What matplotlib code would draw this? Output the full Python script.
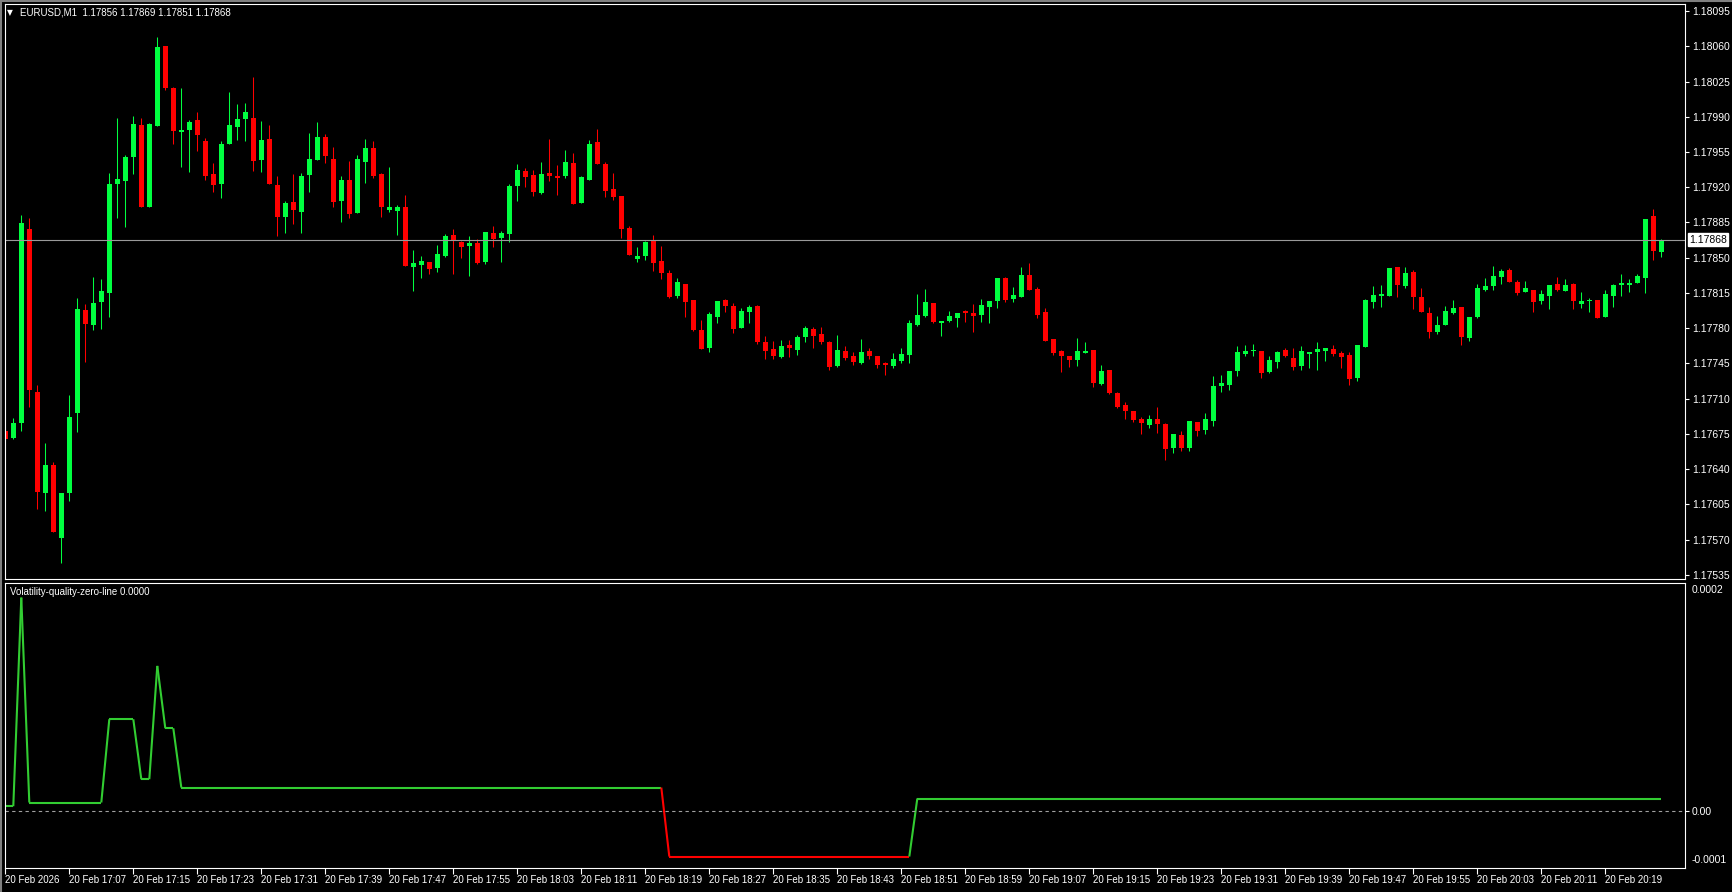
import matplotlib
matplotlib.use("Agg")
import matplotlib.pyplot as plt
from matplotlib.collections import LineCollection
from matplotlib.lines import Line2D
import numpy as np

# EURUSD M1, 20 Feb 2026 16:59 .. 20:26 (one candle per minute)
opens = [
    1.17678, 1.17671, 1.17686, 1.17878, 1.17717, 1.17616, 1.17644, 1.17572, 1.17616, 1.17696,
    1.17798, 1.17783, 1.17806, 1.17815, 1.17923, 1.17926, 1.17950, 1.17982, 1.17900, 1.17981,
    1.18060, 1.18019, 1.17975, 1.17977, 1.17987, 1.17966, 1.17933, 1.17923, 1.17963, 1.17980,
    1.17988, 1.17989, 1.17947, 1.17968, 1.17922, 1.17890, 1.17905, 1.17895, 1.17932, 1.17947,
    1.17970, 1.17948, 1.17906, 1.17927, 1.17894, 1.17945, 1.17959, 1.17933, 1.17897, 1.17896,
    1.17900, 1.17841, 1.17843, 1.17846, 1.17840, 1.17852, 1.17873, 1.17866, 1.17862, 1.17865,
    1.17846, 1.17875, 1.17870, 1.17874, 1.17921, 1.17936, 1.17932, 1.17914, 1.17934, 1.17931,
    1.17931, 1.17944, 1.17904, 1.17927, 1.17965, 1.17943, 1.17918, 1.17911, 1.17879, 1.17849,
    1.17852, 1.17868, 1.17847, 1.17835, 1.17812, 1.17824, 1.17808, 1.17778, 1.17760, 1.17791,
    1.17808, 1.17802, 1.17780, 1.17796, 1.17802, 1.17766, 1.17759, 1.17751, 1.17763, 1.17758,
    1.17771, 1.17779, 1.17774, 1.17766, 1.17742, 1.17757, 1.17752, 1.17745, 1.17757, 1.17752,
    1.17745, 1.17742, 1.17747, 1.17753, 1.17783, 1.17792, 1.17805, 1.17785, 1.17787, 1.17790,
    1.17797, 1.17795, 1.17793, 1.17801, 1.17807, 1.17830, 1.17809, 1.17811, 1.17833, 1.17819,
    1.17796, 1.17769, 1.17757, 1.17752, 1.17748, 1.17755, 1.17758, 1.17725, 1.17738, 1.17716,
    1.17704, 1.17698, 1.17690, 1.17684, 1.17690, 1.17685, 1.17661, 1.17674, 1.17661, 1.17687,
    1.17679, 1.17688, 1.17723, 1.17724, 1.17737, 1.17754, 1.17757, 1.17757, 1.17736, 1.17746,
    1.17758, 1.17750, 1.17742, 1.17754, 1.17756, 1.17757, 1.17759, 1.17755, 1.17753, 1.17730,
    1.17761, 1.17806, 1.17812, 1.17812, 1.17841, 1.17822, 1.17836, 1.17811, 1.17795, 1.17776,
    1.17783, 1.17795, 1.17801, 1.17770, 1.17791, 1.17818, 1.17822, 1.17831, 1.17838, 1.17826,
    1.17816, 1.17818, 1.17807, 1.17812, 1.17824, 1.17817, 1.17824, 1.17804, 1.17807, 1.17808,
    1.17791, 1.17812, 1.17823, 1.17823, 1.17825, 1.17830, 1.17891, 1.17856,
]
highs = [
    1.17681, 1.17691, 1.17892, 1.17889, 1.17724, 1.17666, 1.17647, 1.17616, 1.17714, 1.17810,
    1.17804, 1.17831, 1.17829, 1.17934, 1.17989, 1.17952, 1.17991, 1.17989, 1.17984, 1.18069,
    1.18060, 1.18020, 1.18019, 1.17987, 1.17995, 1.17969, 1.17944, 1.17966, 1.18015, 1.18003,
    1.18004, 1.18029, 1.17986, 1.17982, 1.17931, 1.17906, 1.17933, 1.17934, 1.17974, 1.17985,
    1.17973, 1.17960, 1.17931, 1.17946, 1.17952, 1.17968, 1.17966, 1.17934, 1.17940, 1.17902,
    1.17912, 1.17858, 1.17852, 1.17846, 1.17863, 1.17874, 1.17878, 1.17867, 1.17872, 1.17869,
    1.17876, 1.17881, 1.17877, 1.17923, 1.17943, 1.17939, 1.17937, 1.17945, 1.17968, 1.17942,
    1.17957, 1.17954, 1.17931, 1.17967, 1.17978, 1.17945, 1.17934, 1.17911, 1.17881, 1.17861,
    1.17867, 1.17873, 1.17862, 1.17838, 1.17830, 1.17824, 1.17808, 1.17788, 1.17796, 1.17807,
    1.17809, 1.17805, 1.17800, 1.17803, 1.17803, 1.17772, 1.17767, 1.17768, 1.17768, 1.17773,
    1.17782, 1.17781, 1.17781, 1.17767, 1.17773, 1.17762, 1.17756, 1.17769, 1.17760, 1.17752,
    1.17746, 1.17755, 1.17760, 1.17788, 1.17814, 1.17819, 1.17805, 1.17787, 1.17797, 1.17795,
    1.17798, 1.17804, 1.17809, 1.17807, 1.17830, 1.17831, 1.17821, 1.17841, 1.17845, 1.17821,
    1.17800, 1.17769, 1.17758, 1.17752, 1.17770, 1.17766, 1.17758, 1.17743, 1.17738, 1.17717,
    1.17707, 1.17698, 1.17692, 1.17694, 1.17702, 1.17686, 1.17675, 1.17678, 1.17688, 1.17687,
    1.17696, 1.17732, 1.17733, 1.17737, 1.17762, 1.17763, 1.17764, 1.17757, 1.17752, 1.17757,
    1.17760, 1.17760, 1.17762, 1.17756, 1.17766, 1.17760, 1.17763, 1.17757, 1.17756, 1.17763,
    1.17809, 1.17822, 1.17823, 1.17840, 1.17841, 1.17841, 1.17838, 1.17820, 1.17801, 1.17792,
    1.17802, 1.17808, 1.17801, 1.17791, 1.17824, 1.17830, 1.17842, 1.17839, 1.17840, 1.17828,
    1.17827, 1.17818, 1.17818, 1.17823, 1.17831, 1.17829, 1.17825, 1.17816, 1.17810, 1.17808,
    1.17818, 1.17824, 1.17834, 1.17829, 1.17834, 1.17888, 1.17898, 1.17869,
]
lows = [
    1.17669, 1.17670, 1.17678, 1.17702, 1.17600, 1.17598, 1.17577, 1.17547, 1.17608, 1.17677,
    1.17746, 1.17778, 1.17779, 1.17791, 1.17889, 1.17880, 1.17933, 1.17900, 1.17900, 1.17981,
    1.18017, 1.17963, 1.17940, 1.17935, 1.17956, 1.17927, 1.17915, 1.17909, 1.17963, 1.17967,
    1.17966, 1.17936, 1.17935, 1.17923, 1.17872, 1.17875, 1.17883, 1.17875, 1.17915, 1.17947,
    1.17944, 1.17900, 1.17885, 1.17889, 1.17894, 1.17924, 1.17929, 1.17890, 1.17895, 1.17873,
    1.17842, 1.17817, 1.17830, 1.17834, 1.17836, 1.17851, 1.17834, 1.17850, 1.17832, 1.17844,
    1.17844, 1.17861, 1.17846, 1.17866, 1.17906, 1.17920, 1.17911, 1.17913, 1.17926, 1.17912,
    1.17929, 1.17903, 1.17904, 1.17927, 1.17943, 1.17910, 1.17907, 1.17870, 1.17853, 1.17846,
    1.17848, 1.17837, 1.17829, 1.17810, 1.17810, 1.17791, 1.17777, 1.17759, 1.17756, 1.17785,
    1.17796, 1.17775, 1.17780, 1.17785, 1.17764, 1.17749, 1.17749, 1.17750, 1.17751, 1.17753,
    1.17766, 1.17760, 1.17764, 1.17738, 1.17741, 1.17748, 1.17743, 1.17744, 1.17749, 1.17740,
    1.17733, 1.17740, 1.17745, 1.17745, 1.17782, 1.17791, 1.17785, 1.17772, 1.17786, 1.17781,
    1.17786, 1.17776, 1.17786, 1.17785, 1.17800, 1.17806, 1.17806, 1.17811, 1.17818, 1.17790,
    1.17767, 1.17753, 1.17736, 1.17741, 1.17742, 1.17755, 1.17722, 1.17724, 1.17715, 1.17701,
    1.17690, 1.17687, 1.17675, 1.17681, 1.17676, 1.17649, 1.17656, 1.17658, 1.17658, 1.17673,
    1.17675, 1.17683, 1.17717, 1.17719, 1.17732, 1.17752, 1.17752, 1.17730, 1.17735, 1.17740,
    1.17751, 1.17738, 1.17738, 1.17740, 1.17738, 1.17747, 1.17752, 1.17740, 1.17724, 1.17727,
    1.17761, 1.17800, 1.17801, 1.17812, 1.17811, 1.17820, 1.17799, 1.17796, 1.17770, 1.17774,
    1.17783, 1.17794, 1.17763, 1.17767, 1.17790, 1.17817, 1.17818, 1.17824, 1.17826, 1.17813,
    1.17816, 1.17796, 1.17804, 1.17799, 1.17817, 1.17817, 1.17799, 1.17800, 1.17796, 1.17790,
    1.17791, 1.17801, 1.17812, 1.17816, 1.17825, 1.17815, 1.17848, 1.17851,
]
closes = [
    1.17670, 1.17686, 1.17884, 1.17719, 1.17617, 1.17644, 1.17577, 1.17616, 1.17692, 1.17799,
    1.17784, 1.17805, 1.17817, 1.17923, 1.17928, 1.17950, 1.17983, 1.17900, 1.17983, 1.18059,
    1.18019, 1.17976, 1.17977, 1.17985, 1.17972, 1.17931, 1.17922, 1.17963, 1.17982, 1.17988,
    1.17995, 1.17946, 1.17967, 1.17923, 1.17890, 1.17904, 1.17897, 1.17931, 1.17948, 1.17970,
    1.17951, 1.17905, 1.17927, 1.17893, 1.17948, 1.17959, 1.17931, 1.17900, 1.17900, 1.17900,
    1.17842, 1.17845, 1.17847, 1.17839, 1.17854, 1.17872, 1.17867, 1.17861, 1.17865, 1.17845,
    1.17876, 1.17869, 1.17875, 1.17921, 1.17937, 1.17930, 1.17915, 1.17933, 1.17931, 1.17929,
    1.17945, 1.17903, 1.17930, 1.17963, 1.17943, 1.17916, 1.17910, 1.17878, 1.17853, 1.17852,
    1.17866, 1.17845, 1.17835, 1.17811, 1.17826, 1.17806, 1.17778, 1.17759, 1.17794, 1.17807,
    1.17802, 1.17779, 1.17797, 1.17801, 1.17766, 1.17757, 1.17752, 1.17762, 1.17760, 1.17771,
    1.17780, 1.17772, 1.17766, 1.17741, 1.17758, 1.17750, 1.17746, 1.17756, 1.17752, 1.17743,
    1.17743, 1.17749, 1.17754, 1.17785, 1.17793, 1.17806, 1.17786, 1.17787, 1.17792, 1.17795,
    1.17795, 1.17792, 1.17803, 1.17807, 1.17830, 1.17808, 1.17813, 1.17833, 1.17818, 1.17793,
    1.17767, 1.17755, 1.17752, 1.17748, 1.17757, 1.17757, 1.17726, 1.17737, 1.17716, 1.17702,
    1.17698, 1.17689, 1.17686, 1.17690, 1.17685, 1.17660, 1.17675, 1.17661, 1.17688, 1.17678,
    1.17690, 1.17723, 1.17726, 1.17737, 1.17756, 1.17757, 1.17758, 1.17735, 1.17748, 1.17756,
    1.17752, 1.17741, 1.17757, 1.17756, 1.17759, 1.17760, 1.17754, 1.17751, 1.17729, 1.17763,
    1.17808, 1.17813, 1.17814, 1.17840, 1.17823, 1.17835, 1.17811, 1.17796, 1.17776, 1.17783,
    1.17797, 1.17800, 1.17771, 1.17791, 1.17820, 1.17822, 1.17832, 1.17837, 1.17826, 1.17815,
    1.17820, 1.17806, 1.17814, 1.17823, 1.17818, 1.17823, 1.17807, 1.17807, 1.17808, 1.17790,
    1.17814, 1.17823, 1.17825, 1.17825, 1.17832, 1.17888, 1.17857, 1.17868,
]

# Volatility-quality-zero-line, read as runs of equal level (value, number of bars)
vq_levels = [0.0000041, 0.0001825, 0.0000073, 0.0000785, 0.0000272,
             0.0001241, 0.0000708, 0.0000201, -0.0000389, 0.0000107]
vq_bars = [2, 1, 10, 4, 2, 1, 2, 61, 31, 94]

price_ticks = [1.18095, 1.18060, 1.18025, 1.17990, 1.17955, 1.17920, 1.17885, 1.17850, 1.17815,
               1.17780, 1.17745, 1.17710, 1.17675, 1.17640, 1.17605, 1.17570, 1.17535]
time_labels = ["20 Feb 2026", "20 Feb 17:07", "20 Feb 17:15", "20 Feb 17:23", "20 Feb 17:31",
               "20 Feb 17:39", "20 Feb 17:47", "20 Feb 17:55", "20 Feb 18:03", "20 Feb 18:11",
               "20 Feb 18:19", "20 Feb 18:27", "20 Feb 18:35", "20 Feb 18:43", "20 Feb 18:51",
               "20 Feb 18:59", "20 Feb 19:07", "20 Feb 19:15", "20 Feb 19:23", "20 Feb 19:31",
               "20 Feb 19:39", "20 Feb 19:47", "20 Feb 19:55", "20 Feb 20:03", "20 Feb 20:11",
               "20 Feb 20:19"]
last_price = 1.17868
header = "EURUSD,M1  1.17856 1.17869 1.17851 1.17868"
indicator_name = "Volatility-quality-zero-line 0.0000"

UP = "#00FF40"
DOWN = "#FF0000"
FONT = "Liberation Sans"
W, H = 1733, 892

plt.rcParams["font.family"] = [FONT, "DejaVu Sans"]

fig = plt.figure(figsize=(W / 100, H / 100), dpi=100, facecolor="black")


def box(x0, y0, x1, y1):
    # pixel box (top-left origin) -> figure rect
    return [x0 / W, 1 - y1 / H, (x1 - x0) / W, (y1 - y0) / H]


ax = fig.add_axes(box(4.5, 3.5, 1685, 578.5))
ax2 = fig.add_axes(box(4.5, 582.5, 1685, 868), sharex=ax)

for a in (ax, ax2):
    a.set_facecolor("black")
    for s in a.spines.values():
        s.set_color("white")
        s.set_linewidth(0.8)

o = np.array(opens)
h = np.array(highs)
l = np.array(lows)
c = np.array(closes)
x = np.arange(len(o))
colors = np.where(c >= o, UP, DOWN)

ax.vlines(x, l, h, colors=colors, linewidth=0.75)
body_lo = np.minimum(o, c)
body_h = np.maximum(np.abs(c - o), 0.000012)
ax.bar(x, body_h, bottom=body_lo, width=0.62, color=colors, linewidth=0)

ax.axhline(last_price, color="#9A9A9A", linewidth=0.8)
ax.set_xlim(-0.1, 209.96)
ax.set_ylim(1.175313, 1.181025)

ax.yaxis.tick_right()
ax.set_yticks(price_ticks)
ax.set_yticklabels([f"{p:.5f}" for p in price_ticks])
ax.tick_params(axis="y", colors="white", labelsize=7.5, length=3, width=0.8, pad=2)
ax.tick_params(axis="x", bottom=False, labelbottom=False)
ax.text(1.0025, last_price, f"{last_price:.5f}", transform=ax.get_yaxis_transform(),
        color="black", fontsize=7.5, va="center", ha="left",
        bbox=dict(boxstyle="square,pad=0.12", facecolor="white", edgecolor="white"))

# indicator pane
vq = np.repeat(vq_levels, vq_bars)
pts = np.column_stack([x, vq])
segs = np.stack([pts[:-1], pts[1:]], axis=1)
seg_colors = ["#FF0000" if v < 0 else "#32CD32" for v in vq[1:]]
ax2.add_collection(LineCollection(segs, colors=seg_colors, linewidths=1.5))
ax2.axhline(0, color="#A0A0A0", linewidth=0.8, linestyle=(0, (3, 3)))
ax2.set_ylim(-0.0000487, 0.0001954)

ax2.yaxis.tick_right()
ax2.set_yticks([0.0])
ax2.set_yticklabels(["0.00"])
ax2.tick_params(axis="y", colors="white", labelsize=7.5, length=3, width=0.8, pad=2)
ax2.text(1.004, 0.99, "0.0002", transform=ax2.transAxes, color="white", fontsize=7.5,
         va="top", ha="left")
ax2.text(1.004, 0.01, "-0.0001", transform=ax2.transAxes, color="white", fontsize=7.5,
         va="bottom", ha="left")

ax2.set_xticks(x[::8][:len(time_labels)])
ax2.set_xticklabels(time_labels, ha="left")
ax2.tick_params(axis="x", colors="white", labelsize=7, length=4, width=0.8, pad=1)

fig.text(10 / W, 1 - 592 / H, indicator_name, color="white", fontsize=7, va="center")
fig.text(7 / W, 1 - 12.5 / H, "\u25bc", color="white", fontsize=5.5, va="center",
         family="DejaVu Sans")
fig.text(20.5 / W, 1 - 12.5 / H, header, color="white", fontsize=7, va="center")

# window frame
fig.add_artist(Line2D([1 / W, 1 / W], [0, 1], color="#808080", linewidth=1.5))
fig.add_artist(Line2D([0, 1], [1 - 0.8 / H, 1 - 0.8 / H], color="#808080", linewidth=1.5))

fig.savefig("out.png", dpi=100, facecolor="black")
